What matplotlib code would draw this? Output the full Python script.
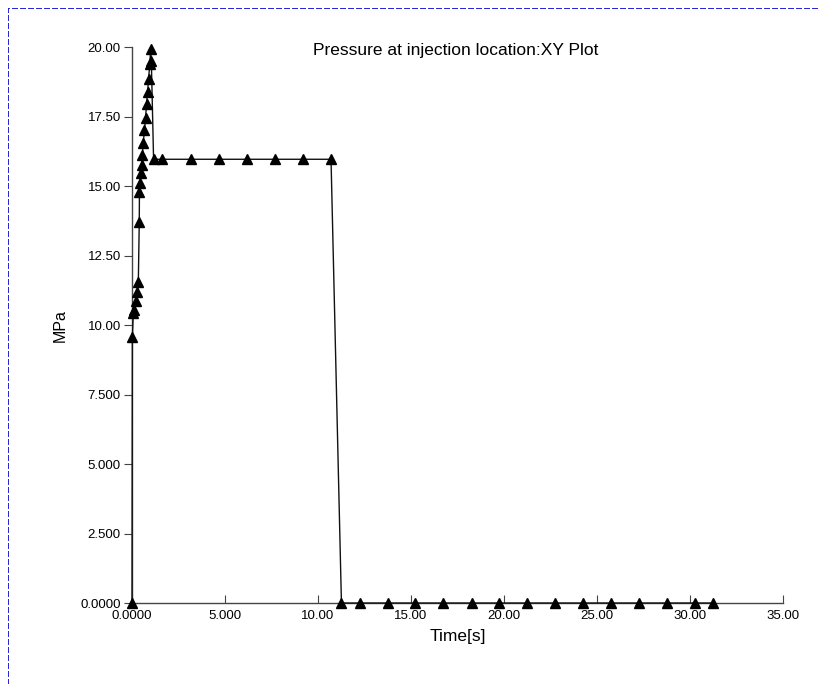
import matplotlib
matplotlib.use("Agg")
import matplotlib.pyplot as plt
from matplotlib.lines import Line2D

plt.rcParams["font.family"] = ["Liberation Sans", "DejaVu Sans"]

# pressure at injection location
time_s = [0.0, 0.02, 0.07, 0.12, 0.20, 0.29, 0.34, 0.39, 0.40, 0.43, 0.47,
          0.52, 0.56, 0.60, 0.67, 0.73, 0.78, 0.84, 0.89, 0.96, 1.00, 1.04,
          1.16, 1.62, 3.17, 4.68, 6.17, 7.68, 9.18, 10.70,
          11.26, 12.25, 13.74, 15.22, 16.74, 18.26, 19.75, 21.24, 22.75,
          24.24, 25.73, 27.25, 28.76, 30.25, 31.26]
pressure_mpa = [0.0, 9.58, 10.42, 10.54, 10.88, 11.20, 11.56, 13.70, 14.80,
                15.10, 15.46, 15.76, 16.12, 16.54, 17.01, 17.47, 17.95, 18.40,
                18.87, 19.41, 19.95, 19.50,
                15.97, 15.97, 15.97, 15.97, 15.97, 15.97, 15.97, 15.97,
                0.0, 0.0, 0.0, 0.0, 0.0, 0.0, 0.0, 0.0, 0.0,
                0.0, 0.0, 0.0, 0.0, 0.0, 0.0]

x_ticks = [0, 5, 10, 15, 20, 25, 30, 35]
x_labels = ["0.0000", "5.000", "10.00", "15.00", "20.00", "25.00", "30.00", "35.00"]
y_ticks = [0, 2.5, 5, 7.5, 10, 12.5, 15, 17.5, 20]
y_labels = ["0.0000", "2.500", "5.000", "7.500", "10.00", "12.50", "15.00", "17.50", "20.00"]

W, H = 818, 684
fig = plt.figure(figsize=(W / 100, H / 100), dpi=100)
ax = fig.add_axes([132 / W, 1 - 603 / H, 651 / W, 555.7 / H])

ax.plot(time_s, pressure_mpa, color="#111111", lw=1.0, marker="^",
        markersize=6.5, markerfacecolor="black", markeredgecolor="black",
        clip_on=False, zorder=3)

ax.set_xlim(0, 35)
ax.set_ylim(0, 20)
ax.spines["top"].set_visible(False)
ax.spines["right"].set_visible(False)
for s in ("left", "bottom"):
    ax.spines[s].set_color("#444444")
    ax.spines[s].set_linewidth(1.0)

ax.set_xticks(x_ticks, labels=x_labels)
ax.set_yticks(y_ticks, labels=y_labels)
ax.tick_params(axis="x", direction="in", length=6, color="#444444",
               labelsize=9.5, pad=5)
ax.tick_params(axis="y", direction="out", length=6, color="#444444",
               labelsize=9.5, pad=2)

ax.set_xlabel("Time[s]", fontsize=12.5, labelpad=5)
ax.set_ylabel("MPa", fontsize=11.5, labelpad=9)
fig.text(456 / W, 1 - 50 / H, "Pressure at injection location:XY Plot",
         ha="center", va="center", fontsize=12.5)

# dashed panel border (top and left edges)
border = Line2D([7.5 / W, 7.5 / W, 1.0], [0.0, 1 - 7.5 / H, 1 - 7.5 / H],
                transform=fig.transFigure, color="#2a2ad2", lw=1.0,
                linestyle=(0, (4, 2)), antialiased=False)
fig.add_artist(border)

fig.savefig("out.png", dpi=100)
